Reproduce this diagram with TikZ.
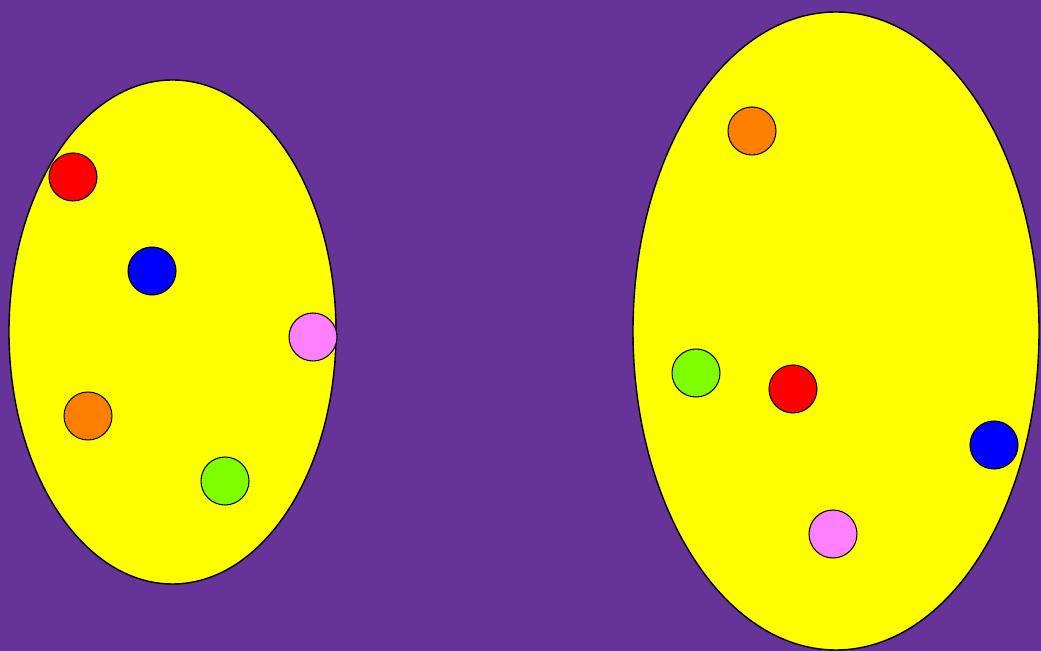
\documentclass[tikz,border=0pt]{standalone}
\usepackage[dvipsnames,svgnames,x11names]{xcolor}
\usetikzlibrary{shapes.geometric}
\definecolor{bgpurple}{HTML}{663399}
\definecolor{setyellow}{HTML}{FFFF00}
\definecolor{dotred}{HTML}{FF0000}
\definecolor{dotblue}{HTML}{0000FF}
\definecolor{dotpink}{HTML}{FF80FF}
\definecolor{dotorange}{HTML}{FF8000}
\definecolor{dotgreen}{HTML}{80FF00}
\tikzset{
  setshape/.style={draw=black, line width=0.8pt, fill=setyellow},
  dot/.style={circle, draw=black, line width=0.6pt, minimum size=0.96cm, inner sep=0pt}
}

\begin{document}
\begin{tikzpicture}[x=0.02cm, y=-0.02cm]
			% 背景
			\fill[bgpurple] (0,0) rectangle (1041,651);
			\useasboundingbox (0,0) rectangle (1041,651);
			% 两个集合
			\draw[setshape] (172.5,332) ellipse [x radius=163.5, y radius=252];
			\draw[setshape] (836,331) ellipse [x radius=203, y radius=319];
			% 左边的点
			\node[dot, fill=dotred]    (redA)    at (73,177)  {};
			\node[dot, fill=dotblue]   (blueA)   at (152,271) {};
			\node[dot, fill=dotpink]   (pinkA)   at (313,337) {};
			\node[dot, fill=dotorange] (orangeA) at (88,416)  {};
			\node[dot, fill=dotgreen]  (greenA)  at (225,481) {};
			% 右边的点
			\node[dot, fill=dotorange] (orangeB) at (752,131) {};
			\node[dot, fill=dotgreen]  (greenB)  at (696,373) {};
			\node[dot, fill=dotred]    (redB)    at (793,389) {};
			\node[dot, fill=dotblue]   (blueB)   at (994,445) {};
			\node[dot, fill=dotpink]   (pinkB)   at (833,534) {};
\end{tikzpicture}
\end{document}
